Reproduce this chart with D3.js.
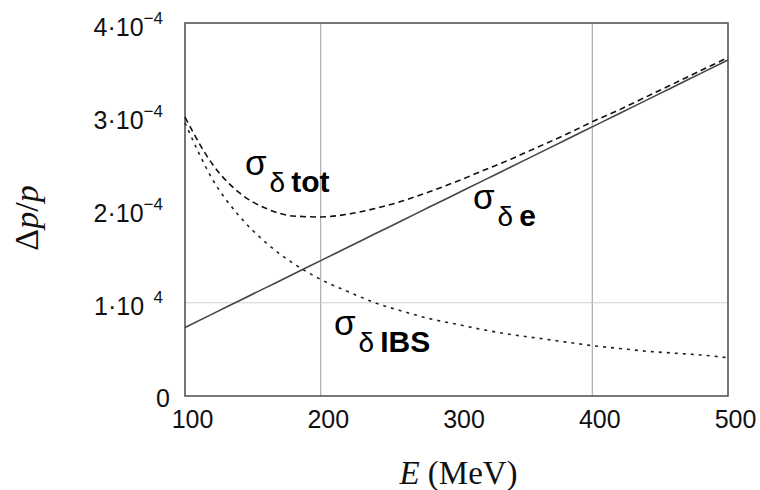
<!DOCTYPE html>
<html>
<head>
  <title>Momentum spread vs energy</title>
  <style>
    body { margin: 0; background: #fff; }
    .tick-lbl { font-family: "Liberation Sans", Arial, sans-serif; fill: #111; }
    .ax-title { font-family: "Liberation Serif", "DejaVu Serif", serif; fill: #111; }
    .curve-lbl { font-family: "Liberation Sans", Arial, sans-serif; fill: #000; }
  </style>
</head>
<body>
  <svg id="chart" width="760" height="490"></svg>

  <script src="https://d3js.org/d3.v7.min.js"></script>
  <script>
    // data, energy in MeV, spread in units of 1e-4
    const energy = [100, 120, 140, 160, 180, 200, 220, 240, 260, 280, 300,
                    320, 340, 360, 380, 400, 420, 440, 460, 480, 500];
    const sigmaE = [0.735, 0.878, 1.022, 1.165, 1.308, 1.452, 1.595, 1.739, 1.882, 2.026, 2.169,
                    2.312, 2.456, 2.599, 2.743, 2.886, 3.029, 3.173, 3.316, 3.460, 3.603];
    const sigmaIBS = [2.93, 2.33, 1.93, 1.64, 1.42, 1.25, 1.12, 1.00, 0.91, 0.83, 0.77,
                      0.71, 0.66, 0.62, 0.58, 0.54, 0.51, 0.48, 0.46, 0.44, 0.41];
    const sigmaTot = [2.99, 2.49, 2.18, 2.01, 1.93, 1.92, 1.95, 2.01, 2.09, 2.19, 2.30,
                      2.42, 2.54, 2.67, 2.80, 2.94, 3.07, 3.21, 3.35, 3.49, 3.63];

    const xTicks = [100, 200, 300, 400, 500];
    const yTicks = [0, 1, 2, 3, 4];
    const yTickBase = ["0", "1·10", "2·10", "3·10", "4·10"];
    const yTickExp = ["", "\u20074", "\u22124", "\u22124", "\u22124"];
    const xGrid = [200, 400];
    const yGrid = [1];

    const width = 760, height = 490;
    const margin = { top: 23, right: 32, bottom: 94, left: 185 };
    const innerW = width - margin.left - margin.right;
    const innerH = height - margin.top - margin.bottom;

    const svg = d3.select("#chart");
    const chart = svg.append("g")
      .attr("transform", `translate(${margin.left},${margin.top})`);

    const x = d3.scaleLinear().domain([100, 500]).range([0, innerW]);
    const y = d3.scaleLinear().domain([0, 4]).range([innerH, 0]);

    // grid lines
    chart.selectAll(".vgrid").data(xGrid).enter().append("line")
      .attr("x1", d => x(d)).attr("x2", d => x(d))
      .attr("y1", 0).attr("y2", innerH)
      .attr("stroke", "#9a9a9a").attr("stroke-width", 1);
    chart.selectAll(".hgrid").data(yGrid).enter().append("line")
      .attr("x1", 0).attr("x2", innerW)
      .attr("y1", d => y(d)).attr("y2", d => y(d))
      .attr("stroke", "#d0d0d0").attr("stroke-width", 1);

    // x axis (labels only)
    const xAxis = chart.append("g")
      .attr("transform", `translate(0,${innerH})`)
      .call(d3.axisBottom(x).tickValues(xTicks).tickSize(0).tickFormat(d3.format("d")));
    xAxis.select(".domain").remove();
    xAxis.selectAll("text")
      .attr("class", "tick-lbl")
      .attr("font-size", 25)
      .attr("dx", 7)
      .attr("dy", 0)
      .attr("y", 32);

    // y axis (labels only, with superscript exponents)
    const yAxis = chart.append("g")
      .call(d3.axisLeft(y).tickValues(yTicks).tickSize(0).tickFormat(""));
    yAxis.select(".domain").remove();
    yAxis.selectAll(".tick").each(function (d, i) {
      const t = d3.select(this).select("text")
        .attr("class", "tick-lbl")
        .attr("font-size", 25)
        .attr("text-anchor", "end")
        .attr("dy", 0)
        .attr("x", d === 0 ? -15 : -22)
        .attr("y", d === 0 ? 10 : 12);
      t.text(null);
      t.append("tspan").text(yTickBase[i]);
      if (yTickExp[i]) {
        t.append("tspan").attr("font-size", 17).attr("dy", -12).text(yTickExp[i]);
      }
    });

    // frame
    chart.append("rect")
      .attr("width", innerW).attr("height", innerH)
      .attr("fill", "none").attr("stroke", "#555").attr("stroke-width", 1.6);

    // curves
    const line = vals => d3.line()
      .x((d, i) => x(energy[i]))
      .y(d => y(d))
      .curve(d3.curveMonotoneX)(vals);

    chart.append("path").attr("d", line(sigmaE))
      .attr("fill", "none").attr("stroke", "#444").attr("stroke-width", 1.6);
    chart.append("path").attr("d", line(sigmaTot))
      .attr("fill", "none").attr("stroke", "#111").attr("stroke-width", 1.6)
      .attr("stroke-dasharray", "6,4");
    chart.append("path").attr("d", line(sigmaIBS))
      .attr("fill", "none").attr("stroke", "#222").attr("stroke-width", 1.6)
      .attr("stroke-dasharray", "3,5");

    // curve labels
    function curveLabel(px, py, sub) {
      const t = svg.append("text").attr("class", "curve-lbl")
        .attr("x", px).attr("y", py);
      t.append("tspan").attr("font-size", 35).text("σ");
      t.append("tspan").attr("font-size", 28).attr("dx", 3).attr("dy", 17).text("δ");
      t.append("tspan").attr("font-size", 30).attr("font-weight", "bold").attr("dx", 6).text(sub);
    }
    curveLabel(245, 175, "tot");
    curveLabel(473, 209, "e");
    curveLabel(334, 335, "IBS");

    // axis titles
    const xt = svg.append("text").attr("class", "ax-title")
      .attr("x", margin.left + innerW / 2 + 2).attr("y", 484)
      .attr("text-anchor", "middle").attr("font-size", 33);
    xt.append("tspan").attr("font-style", "italic").text("E");
    xt.append("tspan").text(" (MeV)");

    const yt = svg.append("text").attr("class", "ax-title")
      .attr("transform", "translate(38,218) rotate(-90)")
      .attr("text-anchor", "middle").attr("font-size", 34);
    yt.append("tspan").text("Δ");
    yt.append("tspan").attr("font-style", "italic").text("p");
    yt.append("tspan").text("/");
    yt.append("tspan").attr("font-style", "italic").text("p");
  </script>
</body>
</html>
